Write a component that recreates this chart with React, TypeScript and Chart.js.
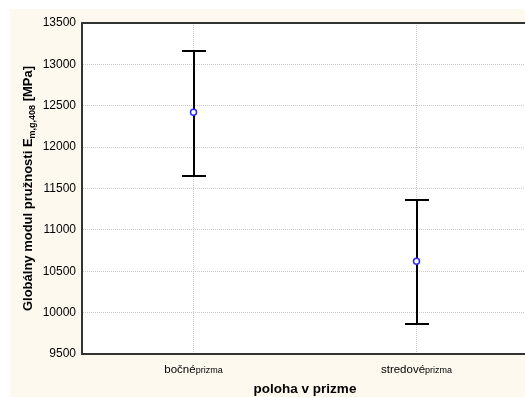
import React, { useEffect, useRef } from 'react';
import { Chart, registerables } from 'chart.js';

Chart.register(...registerables);

// ---- data ----
const categories = ['bočné', 'stredové'];
const categorySuffix = ['prizma', 'prizma'];
const means = [12421, 10620];
const upper = [13162, 11361];
const lower = [11655, 9859];
const yMin = 9500;
const yMax = 13500;
const yStep = 500;
const yTitleMain = 'Globálny modul pružnosti E';
const yTitleSub = 'm,g,408';
const yTitleEnd = ' [MPa]';
const xTitle = 'poloha v prizme';

const FONT = '"Liberation Sans", Arial, sans-serif';

const customPlugin = {
  id: 'customDraw',
  beforeDraw(chart: any) {
    const { ctx, chartArea: ca } = chart;
    ctx.save();
    ctx.fillStyle = '#fdf9ee';
    ctx.fillRect(10, 9, chart.width - 10, chart.height - 9);
    ctx.fillStyle = '#ffffff';
    ctx.fillRect(ca.left, ca.top, ca.right - ca.left, ca.bottom - ca.top);
    ctx.restore();
  },
  beforeDatasetsDraw(chart: any) {
    const { ctx, chartArea: ca } = chart;
    const xs = chart.scales.x;
    const ys = chart.scales.y;
    ctx.save();
    ctx.strokeStyle = '#333';
    ctx.lineWidth = 2;
    ctx.beginPath();
    ctx.moveTo(ca.left - 1, ca.top);
    ctx.lineTo(ca.right, ca.top);
    ctx.stroke();

    ctx.strokeStyle = '#000';
    ctx.lineWidth = 2;
    means.forEach((_, i) => {
      const px = Math.round(xs.getPixelForValue(i));
      const pt = Math.round(ys.getPixelForValue(upper[i]));
      const pb = Math.round(ys.getPixelForValue(lower[i]));
      ctx.beginPath();
      ctx.moveTo(px, pt);
      ctx.lineTo(px, pb);
      ctx.moveTo(px - 12, pt);
      ctx.lineTo(px + 12, pt);
      ctx.moveTo(px - 12, pb);
      ctx.lineTo(px + 12, pb);
      ctx.stroke();
    });
    ctx.restore();
  },
  afterDraw(chart: any) {
    const { ctx, chartArea: ca } = chart;
    const xs = chart.scales.x;
    ctx.save();
    ctx.fillStyle = '#000';
    ctx.textBaseline = 'alphabetic';
    ctx.textAlign = 'left';
    // x tick labels (mixed sizes)
    categories.forEach((lab, i) => {
      const px = xs.getPixelForValue(i);
      ctx.font = `11.5px ${FONT}`;
      const w1 = ctx.measureText(lab).width;
      ctx.font = `9px ${FONT}`;
      const w2 = ctx.measureText(categorySuffix[i]).width;
      const start = px - (w1 + w2) / 2;
      ctx.font = `11.5px ${FONT}`;
      ctx.fillText(lab, start, 373);
      ctx.font = `9px ${FONT}`;
      ctx.fillText(categorySuffix[i], start + w1, 373);
    });
    // x title
    ctx.font = `bold 13.5px ${FONT}`;
    ctx.textAlign = 'center';
    ctx.fillText(xTitle, (ca.left + ca.right) / 2, 393);

    // y title with subscript
    ctx.textAlign = 'left';
    const cy = (ca.top + ca.bottom) / 2;
    ctx.translate(32, cy);
    ctx.rotate(-Math.PI / 2);
    ctx.font = `bold 13px ${FONT}`;
    const a = ctx.measureText(yTitleMain).width;
    const c = ctx.measureText(yTitleEnd).width;
    ctx.font = `bold 9px ${FONT}`;
    const b = ctx.measureText(yTitleSub).width;
    const total = a + b + c;
    let x0 = -total / 2;
    ctx.font = `bold 13px ${FONT}`;
    ctx.fillText(yTitleMain, x0, 0);
    x0 += a;
    ctx.font = `bold 9px ${FONT}`;
    ctx.fillText(yTitleSub, x0, 3);
    x0 += b;
    ctx.font = `bold 13px ${FONT}`;
    ctx.fillText(yTitleEnd, x0, 0);
    ctx.restore();
  },
};

export default function App() {
  const canvasRef = useRef<HTMLCanvasElement | null>(null);

  useEffect(() => {
    const canvas = canvasRef.current;
    if (!canvas) return;
    const chart = new Chart(canvas, {
      type: 'line',
      data: {
        labels: categories,
        datasets: [
          {
            data: means,
            showLine: false,
            pointRadius: 3,
            pointHoverRadius: 3,
            pointBorderWidth: 1.5,
            pointBorderColor: '#2a2aff',
            pointBackgroundColor: '#ffffff',
          },
        ],
      },
      options: {
        responsive: false,
        animation: false,
        devicePixelRatio: 1,
        layout: { padding: { top: 23, right: 12, bottom: 0, left: 0 } },
        plugins: {
          legend: { display: false },
          tooltip: { enabled: false },
          title: { display: false },
        },
        scales: {
          x: {
            type: 'category',
            offset: true,
            grid: {
              offset: false,
              color: '#cccccc',
              lineWidth: 1,
              drawTicks: false,
            },
            border: { display: true, color: '#333', width: 2, dash: [1, 1] },
            ticks: { display: false },
            afterFit: (s: any) => {
              s.height = 43;
            },
          },
          y: {
            min: yMin,
            max: yMax,
            grid: { color: '#cccccc', lineWidth: 1, drawTicks: false },
            border: { display: true, color: '#333', width: 2, dash: [1, 1] },
            ticks: {
              stepSize: yStep,
              padding: 6,
              color: '#000',
              font: { family: FONT, size: 12 },
              callback: (v: any) => String(v),
            },
            afterFit: (s: any) => {
              s.width = 82;
            },
          },
        },
      },
      plugins: [customPlugin],
    } as any);
    return () => chart.destroy();
  }, []);

  return (
    <div
      style={{
        position: 'absolute',
        left: 0,
        top: 0,
        width: 525,
        height: 397,
        overflow: 'hidden',
        background: '#ffffff',
      }}
    >
      <canvas ref={canvasRef} width={540} height={397} style={{ display: 'block' }} />
    </div>
  );
}
